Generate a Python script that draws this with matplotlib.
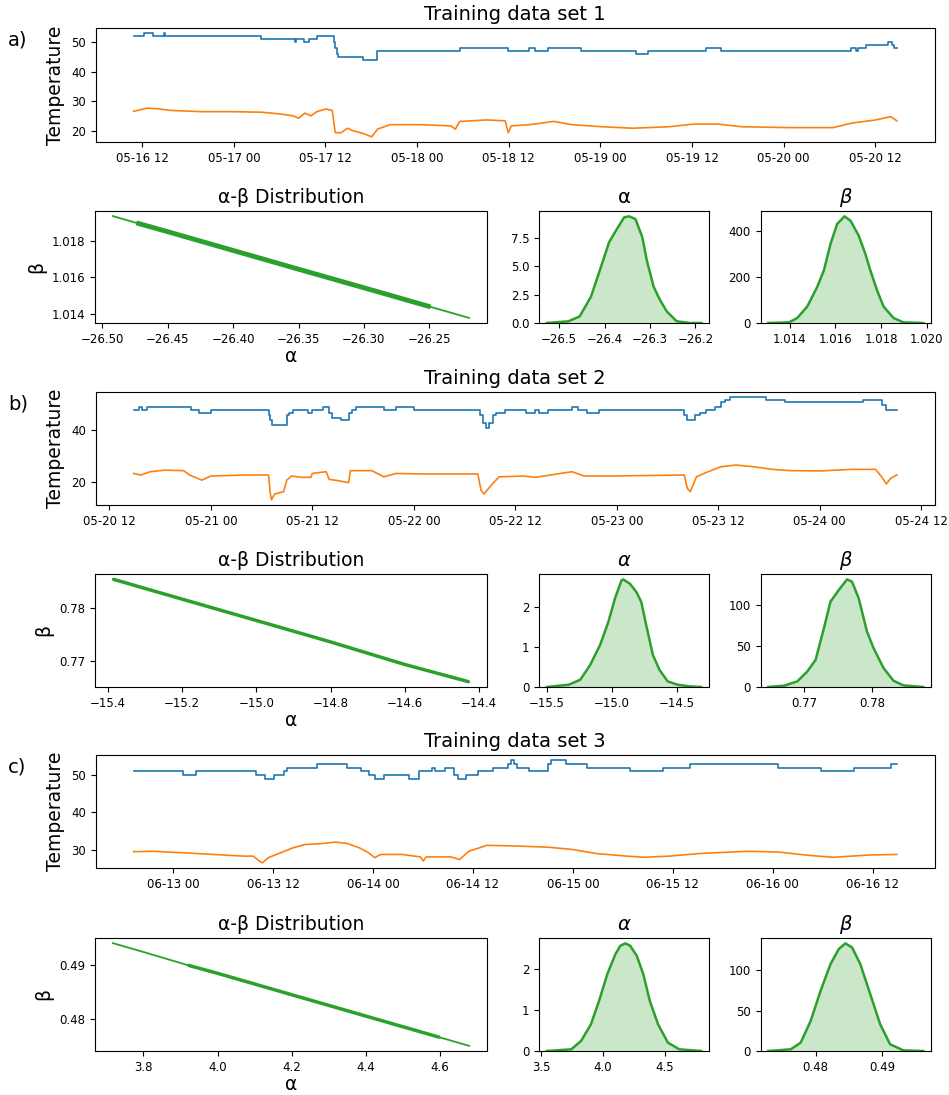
import numpy as np
import matplotlib.pyplot as plt
import matplotlib.dates as mdates
from matplotlib.ticker import MaxNLocator

# ---- time series (hours since midnight of the first day) ----
day0 = ['2019-05-16', '2019-05-20', '2019-06-12']

blue1_h = [10.9, 12.2, 13.4, 14.8, 15.0, 27.6, 32.0, 32.2, 33.2, 33.8, 34.9, 37.1, 37.3, 37.5, 37.7,
           40.9, 42.8, 53.6, 59.9, 62.6, 63.4, 65.1, 69.5, 76.6, 78.2, 85.8, 87.8, 104.8, 105.5,
           105.7, 106.8, 109.6, 110.2, 110.5, 110.8]
blue1_T = [52, 53, 52, 53, 52, 51, 50, 51, 50, 51, 52, 50, 48, 46, 45,
           44, 47, 48, 47, 48, 47, 48, 47, 46, 47, 48, 47, 48, 47,
           48, 49, 50, 49, 48, 48]
orange1_h = [10.89, 12.64, 14.23, 15.82, 19.79, 23.76, 27.74, 30.12, 31.71, 32.51, 33.30, 34.10, 34.89,
             36.09, 36.88, 37.28, 38.07, 38.87, 39.66, 40.86, 42.05, 42.84, 44.43, 48.41, 52.38, 53.02,
             53.57, 57.15, 59.54, 59.93, 60.33, 62.72, 65.90, 68.28, 72.25, 76.23, 81.0, 84.18, 87.36,
             90.54, 96.90, 102.46, 104.85, 108.03, 110.01, 110.81]
orange1_T = [26.6, 27.7, 27.4, 26.9, 26.5, 26.5, 26.3, 25.7, 25.1, 24.3, 26.0, 25.1, 26.5,
             27.4, 26.9, 19.4, 19.4, 20.9, 20.0, 19.2, 18.0, 20.6, 22.1, 22.1, 21.7, 20.6,
             23.2, 23.7, 23.4, 19.4, 21.7, 22.1, 23.2, 22.1, 21.4, 20.9, 21.4, 22.3, 22.3,
             21.4, 21.1, 21.1, 22.6, 23.7, 24.8, 23.4]

blue2_h = [14.87, 15.5, 15.8, 16.45, 21.62, 22.55, 23.99, 30.81, 31.02, 31.24, 32.96, 33.25, 33.68,
           35.47, 35.98, 37.27, 37.99, 38.35, 39.42, 40.36, 40.64, 41.22, 44.45, 45.88, 48.04,
           55.79, 56.15, 56.51, 56.94, 57.37, 57.73, 58.81, 61.32, 62.39, 62.75, 63.83, 66.70,
           67.42, 68.50, 69.93, 79.98, 80.34, 81.20, 81.78, 82.50, 83.57, 84.29, 84.79, 85.36,
           89.67, 91.83, 101.16, 103.32, 103.89, 105.11]
blue2_T = [48, 49, 48, 49, 48, 47, 48, 46, 44, 42, 46, 47, 48,
           47, 48, 49, 47, 45, 44, 47, 48, 49, 48, 49, 48,
           46, 43, 41, 43, 46, 47, 48, 47, 48, 47, 48, 49,
           48, 47, 48, 46, 44, 46, 47, 48, 49, 51, 52, 53,
           52, 51, 52, 50, 48, 48]
orange2_h = [14.87, 15.73, 16.81, 18.60, 20.76, 21.48, 22.91, 23.99, 27.94, 30.81, 31.02, 31.17, 31.53,
             32.60, 32.96, 33.54, 34.76, 35.83, 35.98, 37.63, 37.99, 39.06, 40.28, 40.50, 43.01,
             44.45, 45.88, 49.47, 55.57, 55.93, 56.29, 57.37, 58.09, 60.96, 62.39, 66.70, 68.14,
             71.01, 79.98, 80.34, 80.70, 81.42, 82.50, 84.29, 86.09, 88.24, 90.39, 92.55, 96.14,
             99.73, 102.60, 103.32, 103.89, 104.39, 105.11]
orange2_T = [23.2, 22.6, 23.9, 24.5, 24.3, 22.6, 20.6, 22.2, 22.6, 22.6, 15.5, 12.9, 15.2,
             16.1, 20.6, 22.2, 21.7, 21.7, 23.2, 23.9, 20.9, 20.4, 19.6, 24.3, 24.3,
             21.9, 23.2, 23.0, 23.0, 16.8, 15.2, 19.4, 21.9, 22.2, 21.7, 23.9, 22.2,
             22.2, 22.6, 17.4, 16.1, 21.9, 23.5, 25.8, 26.5, 25.8, 24.8, 24.3, 24.2,
             24.8, 24.8, 21.9, 19.1, 21.3, 22.6]

blue3_h = [19.26, 25.24, 26.70, 33.99, 35.08, 36.17, 37.27, 37.63, 41.27, 44.92, 46.52, 47.47, 48.20,
           49.29, 52.35, 53.52, 55.12, 55.49, 56.58, 57.67, 58.18, 59.13, 60.59, 62.41, 64.23,
           64.60, 64.96, 65.33, 65.69, 66.78, 68.97, 69.34, 71.16, 73.71, 78.81, 82.82, 86.10,
           96.67, 101.77, 105.78, 110.15, 110.88]
blue3_T = [51, 50, 51, 50, 49, 50, 51, 52, 53, 52, 51, 50, 49,
           50, 49, 51, 52, 51, 52, 50, 49, 50, 51, 52, 53,
           54, 53, 52, 52, 51, 53, 54, 53, 52, 51, 52, 53,
           52, 51, 52, 53, 53]
orange3_h = [19.26, 21.59, 25.24, 28.88, 32.53, 33.62, 34.35, 34.71, 35.44, 36.90, 38.36, 39.82, 42.00,
             43.46, 44.92, 46.38, 47.47, 48.20, 48.93, 51.48, 53.66, 54.03, 54.39, 57.31, 58.40,
             59.50, 61.69, 65.33, 68.97, 71.89, 74.80, 78.45, 80.63, 83.55, 87.19, 93.02, 96.67,
             100.31, 103.23, 105.41, 107.60, 110.88]
orange3_T = [29.5, 29.6, 29.2, 28.75, 28.3, 28.3, 27.0, 26.5, 27.9, 29.2, 30.5, 31.4, 31.7,
             32.05, 31.7, 30.5, 29.2, 27.9, 28.75, 28.75, 28.1, 27.0, 28.1, 28.1, 27.4,
             29.6, 31.2, 31.0, 30.7, 30.1, 29.0, 28.3, 28.0, 28.3, 29.0, 29.6, 29.4,
             28.5, 28.0, 28.3, 28.6, 28.75]

# ---- alpha-beta samples ----
ab1_alpha = [-26.492, -26.474, -26.45, -26.40, -26.35, -26.30, -26.249, -26.2195]
ab1_beta = [1.01934, 1.01897, 1.01849, 1.01747, 1.01645, 1.01544, 1.01440, 1.01380]
ab2_alpha = [-15.3866, -15.2, -15.0, -14.8, -14.6, -14.4269]
ab2_beta = [0.7855, 0.78173, 0.77770, 0.77366, 0.7694, 0.76613]
ab3_alpha = [3.7175, 3.8, 3.92, 4.0, 4.2, 4.4, 4.6, 4.6789]
ab3_beta = [0.49402, 0.49239, 0.48995, 0.48845, 0.48450, 0.48056, 0.47662, 0.47506]
core = [(-26.474, -26.249), (-15.3866, -14.4269), (3.92, 4.6)]

# ---- KDE curves ----
kde_a1_x = [-26.5275, -26.480, -26.455, -26.430, -26.408, -26.390, -26.375, -26.357, -26.346, -26.332,
            -26.317, -26.307, -26.292, -26.278, -26.263, -26.241, -26.212, -26.187]
kde_a1_y = [0, 0.146, 0.58, 2.33, 4.96, 7.15, 8.17, 9.34, 9.43, 9.19, 7.59, 5.54, 3.21, 2.04, 1.02, 0.15, 0, 0]
kde_b1_x = [1.01306, 1.01397, 1.01433, 1.01477, 1.01521, 1.01550, 1.01579, 1.01608, 1.01640, 1.01666,
            1.01702, 1.01731, 1.01753, 1.01782, 1.01811, 1.01855, 1.01898, 1.01985]
kde_b1_y = [0, 2.9, 21.6, 71.9, 158.3, 230.2, 345.3, 431.7, 464.8, 446.1, 381.3, 302.2, 230.2, 143.9, 71.9, 21.6, 2.9, 0]

kde_a2_x = [-15.500, -15.330, -15.241, -15.165, -15.089, -15.025, -14.975, -14.924, -14.911, -14.860,
            -14.810, -14.772, -14.734, -14.683, -14.632, -14.569, -14.492, -14.404, -14.310]
kde_a2_y = [0, 0.058, 0.183, 0.556, 1.054, 1.635, 2.216, 2.672, 2.697, 2.589, 2.382, 2.133, 1.552, 0.805,
            0.432, 0.141, 0.058, 0.017, 0]
kde_b2_x = [0.76473, 0.76707, 0.76902, 0.77049, 0.77171, 0.77293, 0.77390, 0.77512, 0.77634, 0.77707,
            0.77805, 0.77927, 0.78024, 0.78171, 0.78317, 0.78463, 0.78756]
kde_b2_y = [0, 1.6, 6.9, 19.1, 33.3, 72.0, 104.5, 118.7, 131.7, 128.9, 108.6, 67.9, 47.6, 23.2, 7.7, 2.0, 0]

kde_a3_x = [3.543, 3.742, 3.822, 3.902, 3.968, 4.035, 4.101, 4.141, 4.181, 4.221, 4.274, 4.327, 4.380,
            4.447, 4.527, 4.620, 4.798]
kde_a3_y = [0, 0.041, 0.245, 0.653, 1.224, 1.878, 2.367, 2.571, 2.629, 2.571, 2.327, 1.878, 1.224,
            0.653, 0.204, 0.041, 0]
kde_b3_x = [0.47285, 0.47625, 0.47775, 0.47925, 0.48075, 0.48225, 0.48350, 0.48450, 0.48550, 0.48675,
            0.48825, 0.48975, 0.49125, 0.49325, 0.49625]
kde_b3_y = [0, 2.1, 10.4, 37.3, 74.7, 107.9, 126.6, 133.6, 128.6, 107.9, 70.5, 33.2, 8.3, 0.8, 0]

titles = ['Training data set 1', 'Training data set 2', 'Training data set 3']
letters = ['a)', 'b)', 'c)']
alpha_titles = ['α', r'$\alpha$', r'$\alpha$']

W, H = 949, 1095
def pos(l, t, r, b):
    return [l/W, 1-b/H, (r-l)/W, (b-t)/H]

def to_time(day, hours):
    return np.datetime64(day + 'T00:00') + (np.array(hours)*60).round().astype(int).astype('timedelta64[m]')

def kde_panel(axk, x, y, title):
    axk.plot(x, y, color='C2', lw=1.8)
    axk.fill_between(x, y, color='C2', alpha=0.25, lw=0)
    axk.set_ylim(bottom=0)
    axk.yaxis.set_major_locator(MaxNLocator(nbins=4, steps=[1, 2, 2.5, 5, 10]))
    axk.set_title(title, fontsize=14)
    axk.tick_params(labelsize=8.5)

fig = plt.figure(figsize=(W/100, H/100), dpi=100)

series = [(blue1_h, blue1_T, orange1_h, orange1_T), (blue2_h, blue2_T, orange2_h, orange2_T),
          (blue3_h, blue3_T, orange3_h, orange3_T)]
ab = [(ab1_alpha, ab1_beta), (ab2_alpha, ab2_beta), (ab3_alpha, ab3_beta)]
kdes = [(kde_a1_x, kde_a1_y, kde_b1_x, kde_b1_y), (kde_a2_x, kde_a2_y, kde_b2_x, kde_b2_y),
        (kde_a3_x, kde_a3_y, kde_b3_x, kde_b3_y)]
top_rows = [(28, 142), (392, 505), (755, 868)]
bot_rows = [(211, 323), (574, 687), (938, 1051)]

for i in range(3):
    bh, bT, oh, oT = series[i]
    t0, b0 = top_rows[i]
    ax = fig.add_axes(pos(95.5, t0, 935, b0))
    ax.plot(to_time(day0[i], bh), bT, color='C0', lw=1.2, drawstyle='steps-post')
    ax.plot(to_time(day0[i], oh), oT, color='C1', lw=1.2)
    ax.xaxis.set_major_locator(mdates.HourLocator(byhour=[0, 12]))
    ax.xaxis.set_major_formatter(mdates.DateFormatter('%m-%d %H'))
    ax.tick_params(labelsize=8.5)
    ax.set_ylabel('Temperature', fontsize=13.5)
    ax.set_title(titles[i], fontsize=14)
    fig.text(8/W, 1-(t0+12)/H, letters[i], fontsize=14, va='center')

    t1, b1 = bot_rows[i]
    # alpha-beta distribution
    ax1 = fig.add_axes(pos(95, t1, 487, b1))
    a, b = np.array(ab[i][0]), np.array(ab[i][1])
    ax1.plot(a, b, color='C2', lw=1.3)
    m = (a >= core[i][0]) & (a <= core[i][1])
    ax1.plot(a[m], b[m], color='C2', lw=3.5 if i == 0 else 2.5, solid_capstyle='butt')
    ax1.set_title('α-β Distribution', fontsize=13.5)
    ax1.set_xlabel('α', fontsize=13.5, labelpad=1)
    ax1.set_ylabel('β', fontsize=13.5)
    ax1.tick_params(labelsize=8.5)

    ax_x, ax_y, bx_x, bx_y = kdes[i]
    kde_panel(fig.add_axes(pos(539, t1, 709, b1)), ax_x, ax_y, alpha_titles[i])
    kde_panel(fig.add_axes(pos(760.5, t1, 931, b1)), bx_x, bx_y, r'$\beta$')

plt.savefig('out.png', dpi=100)
